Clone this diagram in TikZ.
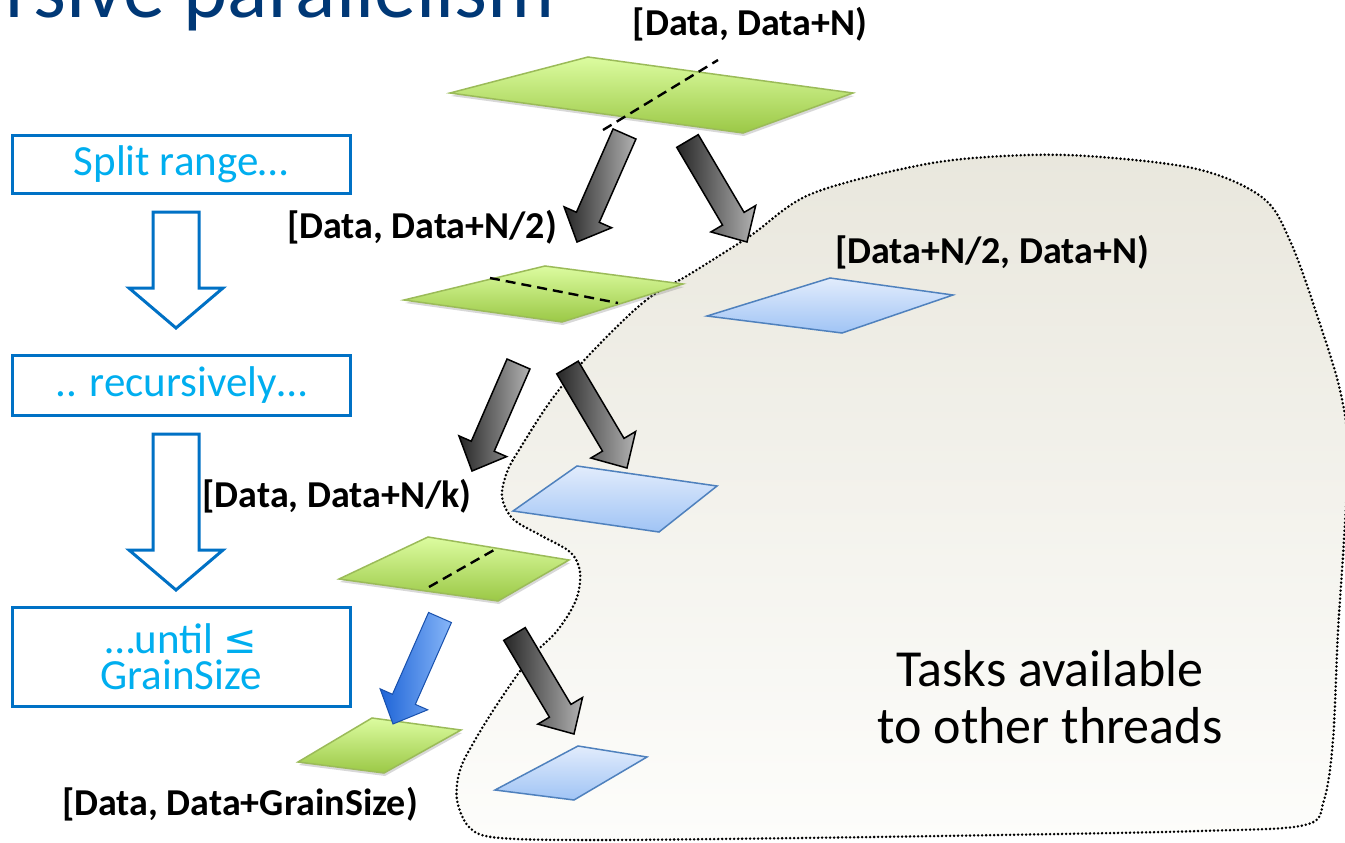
\documentclass[tikz,border=0pt]{standalone}
\usepackage{fontspec}
\setmainfont{Carlito}
\newfontfamily\symfont{DejaVu Sans}
\usetikzlibrary{calc,shadows}
\definecolor{intelblue}{RGB}{0,113,197}
\definecolor{lightcyan}{RGB}{0,174,239}
\definecolor{titleblue}{RGB}{0,56,118}
\definecolor{grnedge}{RGB}{155,187,89}
\definecolor{grntop}{RGB}{220,252,160}
\definecolor{grnbot}{RGB}{155,200,70}
\definecolor{bluedge}{RGB}{79,129,189}
\definecolor{blutop}{RGB}{226,236,252}
\definecolor{blubot}{RGB}{160,196,245}
\definecolor{blobtop}{RGB}{233,231,221}
\definecolor{blobbot}{RGB}{253,253,251}
\definecolor{arrblueA}{RGB}{30,100,215}
\definecolor{arrblueB}{RGB}{135,182,248}
\tikzset{
 greenpar/.style={draw=grnedge, line width=1.5pt, top color=grntop, bottom color=grnbot,
   drop shadow={opacity=0.3, shadow xshift=1pt, shadow yshift=-3pt}},
 bluepar/.style={draw=bluedge, line width=1.5pt, top color=blutop, bottom color=blubot},
 grayarrow/.style={draw=black, line width=1.5pt, left color=black!85, right color=black!30, line join=miter},
 bluearrow/.style={draw=arrblueA!80!black, line width=1pt, left color=arrblueA, right color=arrblueB, line join=miter},
 splitline/.style={dash pattern=on 10pt off 6pt, line width=2.4pt},
 stepbox/.style={draw=intelblue, line width=3pt, minimum width=338pt, text=lightcyan,
   font=\fontsize{43}{36}\selectfont, align=center, inner sep=0pt},
 hollow/.style={draw=intelblue, line width=3pt, fill=white, line join=miter},
 rangelabel/.style={font=\bfseries\fontsize{38}{44}\selectfont, inner sep=0pt, anchor=base},
 blobfill/.style={top color=blobtop, bottom color=blobbot},
 bloboutline/.style={draw=black, line width=2.8pt, line cap=round, dash pattern=on 0pt off 4pt},
}
\newcommand\blockarrow[3]{%
  \coordinate (hb) at ($(#3)!27pt!(#2)$);
  \draw[#1] ($(#2)!12.5pt!90:(#3)$) -- ($(hb)!12.5pt!-90:(#2)$) -- ($(hb)!26pt!-90:(#2)$)
    -- (#3) -- ($(hb)!26pt!90:(#2)$) -- ($(hb)!12.5pt!90:(#2)$) -- ($(#2)!12.5pt!-90:(#3)$) -- cycle;}
\newcommand\blobpath{plot[smooth cycle, tension=0.55] coordinates {
 (590,354) (645,301) (690,274) (750,236) (811,194) (921,165) (1004,156) (1087,156)
 (1197,169) (1263,198) (1291,243) (1318,318) (1340,390) (1348,450) (1344,540) (1338,631)
 (1333,740) (1324,800) (1305,825) (1200,831) (1000,835) (800,838) (600,840) (500,838)
 (470,828) (457,800) (460,770) (475,740) (500,700) (530,658) (557,631) (576,600)
 (580,572) (570,552) (540,535) (513,519) (502,497) (507,472) (519,450) (552,399)}}
\begin{document}
\begin{tikzpicture}[x=1pt,y=-1pt]
\clip (0,0) rectangle (1345,843);
\fill[white] (0,0) rectangle (1345,843);
% title (cut off at the top)
\node[anchor=base east, font=\fontsize{84}{90}\selectfont, text=titleblue, inner sep=0pt] (title) at (555,18) {Recursive parallelism};
% region of tasks available to other threads
\path[blobfill] \blobpath;
\path[bloboutline] \blobpath;
% left column
\node[stepbox, minimum height=58pt] (s1) at (181,164) {Split range…};
\node[stepbox, minimum height=60pt] (s2) at (181,385) {.. recursively…};
\node[stepbox, minimum height=99pt] (s3) at (181,657) {…until {\symfont\fontsize{40}{36}\selectfont ≤}\\GrainSize};
\draw[hollow] (153,212) -- (199,212) -- (199,288) -- (223,288) -- (176,328) -- (129,288) -- (153,288) -- cycle;
\draw[hollow] (153,434) -- (199,434) -- (199,550) -- (223,550) -- (176,590) -- (129,550) -- (153,550) -- cycle;
% ranges
\path[greenpar] (450,93) -- (588,57) -- (853,93) -- (743,133) -- cycle;
\draw[splitline] (603,130) -- (718,60);
\path[greenpar] (404,300) -- (545,266) -- (683,284) -- (562,322) -- cycle;
\draw[splitline] (490,278) -- (618,303);
\path[bluepar] (707,316) -- (830,278) -- (953,295) -- (842,333) -- cycle;
\path[greenpar] (339,579) -- (428,537) -- (569,560) -- (498,601) -- cycle;
\draw[splitline] (429,587) -- (494,550);
\path[bluepar] (513,511) -- (577,466) -- (717,486) -- (659,532) -- cycle;
\path[greenpar] (298,762) -- (372,718) -- (461,730) -- (384,773) -- cycle;
\path[bluepar] (495,790) -- (578,746) -- (647,757) -- (574,800) -- cycle;
% arrows
\coordinate (a1s) at (624.5,134); \coordinate (a1e) at (577,242);
\coordinate (a2s) at (687.5,141); \coordinate (a2e) at (747,242);
\coordinate (a3s) at (518.5,364); \coordinate (a3e) at (472,471);
\coordinate (a4s) at (567.5,367.5); \coordinate (a4e) at (627,468);
\coordinate (a5s) at (440,617.5); \coordinate (a5e) at (393,724);
\coordinate (a6s) at (514.5,634); \coordinate (a6e) at (574,734);
\blockarrow{grayarrow}{a1s}{a1e}
\blockarrow{grayarrow}{a2s}{a2e}
\blockarrow{grayarrow}{a3s}{a3e}
\blockarrow{grayarrow}{a4s}{a4e}
\blockarrow{bluearrow}{a5s}{a5e}
\blockarrow{grayarrow}{a6s}{a6e}
% labels
\node[rangelabel] (l1) at (750,36) {[Data, Data+N)};
\node[rangelabel] (l2) at (422,238) {[Data, Data+N/2)};
\node[rangelabel] (l3) at (992,263) {[Data+N/2, Data+N)};
\node[rangelabel] (l4) at (337,507) {[Data, Data+N/k)};
\node[rangelabel] (l5) at (240,815) {[Data, Data+GrainSize)};
\node[anchor=base, font=\fontsize{52}{60}\selectfont, inner sep=0pt] (t1) at (1050,686) {Tasks available};
\node[anchor=base, font=\fontsize{52}{60}\selectfont, inner sep=0pt] (t2) at (1050,743) {to other threads};
\end{tikzpicture}
\end{document}
